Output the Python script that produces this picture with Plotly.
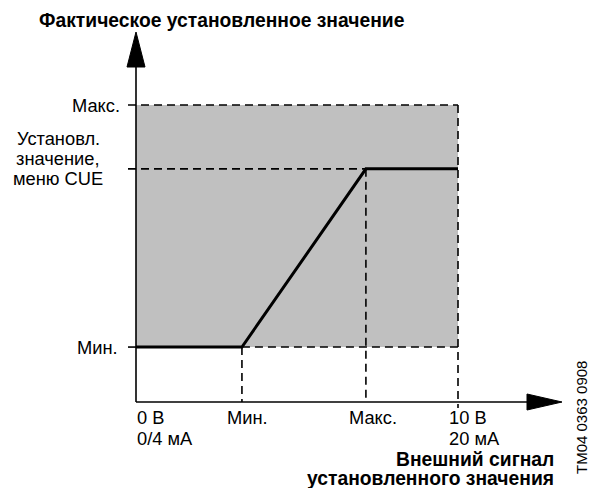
import plotly.graph_objects as go

# ---- data (signal units: 0..10 on x; setpoint units on y) ----
x_signal = [0, 3.29, 7.14, 10]          # 0 В, Мин., Макс., 10 В
y_setpoint = [1.85, 1.85, 7.85, 7.85]   # actual setpoint curve
y_min = 1.85
y_set = 7.85
y_max = 10.0
x_min = 3.29
x_max = 7.14
x_end = 10.0

y_label_min = ["Мин."]
y_label_set = ["Установл.", "значение,", "меню CUE"]
y_label_max = ["Макс."]
x_label_zero = ["0 В", "0/4 мА"]
x_label_min = ["Мин."]
x_label_max = ["Макс."]
x_label_end = ["10 В", "20 мА"]
y_title = "Фактическое установленное значение"
x_title = ["Внешний сигнал", "установленного значения"]
code_text = "TM04 0363 0908"

# ---- geometry ----
W, H = 589, 488
px_x = 32.2   # px per x unit
px_y = 29.7   # px per y unit
ox, oy = 136, 402  # pixel origin
xr = [-ox / px_x, (W - ox) / px_x]
yr = [-(H - oy) / px_y, oy / px_y]

FONT = "Liberation Sans, Arial, sans-serif"
fs = 18.3
fsb = 19.3
dash = "8px,5px"
lw = 1.6

fig = go.Figure()

shapes = []
shapes.append(dict(type="rect", xref="x", yref="y", x0=0, x1=x_end, y0=y_min, y1=y_max,
                   fillcolor="#c0c0c0", line=dict(width=0), layer="below"))
tick = 8 / px_x

def dl(x0, y0, x1, y1):
    shapes.append(dict(type="line", xref="x", yref="y", x0=x0, y0=y0, x1=x1, y1=y1,
                       line=dict(color="black", width=lw, dash=dash)))

dl(-tick, y_max, x_end, y_max)
dl(-tick, y_set, x_max, y_set)
dl(x_min, y_min, x_end, y_min)
dl(x_end, y_max, x_end, -6 / px_y)
dl(x_min, y_min, x_min, 0)
dl(x_max, y_set, x_max, 0)
shapes.append(dict(type="line", xref="x", yref="y", x0=-tick, y0=y_min, x1=0, y1=y_min,
                   line=dict(color="black", width=lw)))
# axes
ay_top = (oy - 32) / px_y
ax_right = (562 - ox) / px_x
shapes.append(dict(type="line", xref="x", yref="y", x0=0, y0=0, x1=0, y1=ay_top - 30 / px_y,
                   line=dict(color="black", width=lw)))
shapes.append(dict(type="line", xref="x", yref="y", x0=0, y0=0, x1=ax_right - 30 / px_x, y1=0,
                   line=dict(color="black", width=lw)))
hw = 9
al = 35
shapes.append(dict(type="path", xref="x", yref="y",
                   path=f"M {-hw/px_x},{ay_top-al/px_y} L 0,{ay_top} L {hw/px_x},{ay_top-al/px_y} Z",
                   fillcolor="black", line=dict(color="black", width=1)))
shapes.append(dict(type="path", xref="x", yref="y",
                   path=f"M {ax_right-al/px_x},{-8/px_y} L {ax_right},0 L {ax_right-al/px_x},{8/px_y} Z",
                   fillcolor="black", line=dict(color="black", width=1)))

fig.add_trace(go.Scatter(x=x_signal, y=y_setpoint, mode="lines",
                         line=dict(color="black", width=3), hoverinfo="skip"))

ann = []

def A(text, px, py, xa, bold=False, size=fs, **kw):
    t = f"<b>{text}</b>" if bold else text
    ann.append(dict(text=t, x=px / W, y=1 - py / H, xref="paper", yref="paper",
                    xanchor=xa, yanchor="middle", showarrow=False,
                    font=dict(family=FONT, size=size, color="black"), **kw))

def X(v):
    return ox + v * px_x

def Y(v):
    return oy - v * px_y

# y labels
A(y_label_max[0], X(0) - 14, Y(y_max), "right")
for i, t in enumerate(y_label_set):
    A(t, 58, Y(y_set) - 30 + i * 20, "center")
A(y_label_min[0], X(0) - 16, Y(y_min), "right")
# x labels
for i, t in enumerate(x_label_zero):
    A(t, X(0) - 1, 417 + i * 21.5, "left")
A(x_label_min[0], X(x_min) + 6, 417, "center")
A(x_label_max[0], X(x_max) + 7, 417, "center")
for i, t in enumerate(x_label_end):
    A(t, X(x_end) - 11, 417 + i * 21.5, "left")
# titles
A(y_title, 37, 20, "left", bold=True, size=fsb)
for i, t in enumerate(x_title):
    A(t, 556, 459.5 + i * 18.5, "right", bold=True, size=fsb)
A(code_text, 581, 418, "center", size=15, textangle=-90)

fig.update_layout(
    width=W, height=H, margin=dict(l=0, r=0, t=0, b=0),
    paper_bgcolor="white", plot_bgcolor="white", showlegend=False,
    xaxis=dict(range=xr, visible=False, fixedrange=True),
    yaxis=dict(range=yr, visible=False, fixedrange=True),
    shapes=shapes, annotations=ann,
)
fig.write_html("out.html", config={"displayModeBar": False},
               post_script="document.body.style.margin='0';document.body.style.overflow='hidden';")
